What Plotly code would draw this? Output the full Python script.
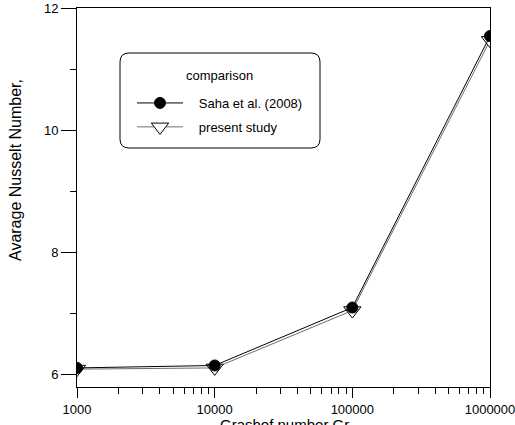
import plotly.graph_objects as go

# Grashof numbers and average Nusselt numbers for both data sets
grashof = [1000, 10000, 100000, 1000000]
nu_saha = [6.10, 6.14, 7.09, 11.54]
nu_present = [6.08, 6.10, 7.04, 11.47]

x_tick_vals = [1000, 10000, 100000, 1000000]
x_tick_text = ["1000", "10000", "100000", "1000000"]
y_tick_vals = [6, 8, 10, 12]
y_minor_vals = [7, 9, 11]

FONT = "Liberation Sans, Arial, sans-serif"
SAHA_COLOR = "black"
PRESENT_COLOR = "#6e6e6e"
GAP = "\u00a0" * 3  # spacing between legend symbol and label

# plot-area geometry in pixels (used to place the paper-space decorations)
W, H = 515, 425
L, R, T, B = 77, 25, 8, 38
PW, PH = W - L - R, H - T - B


def px_x(px):
    return (px - L) / PW


def px_y(py):
    return (H - B - py) / PH


fig = go.Figure()

fig.add_trace(go.Scatter(
    x=grashof, y=nu_present, name=GAP + "present study", mode="lines+markers",
    line=dict(color=PRESENT_COLOR, width=1),
    marker=dict(symbol="triangle-down", size=15, color="white",
                line=dict(color="black", width=1)),
    legendrank=2, legendgroup="present",
))
fig.add_trace(go.Scatter(
    x=grashof, y=nu_saha, name=GAP + "Saha et al. (2008)", mode="lines+markers",
    line=dict(color=SAHA_COLOR, width=1),
    marker=dict(symbol="circle", size=11, color="black",
                line=dict(color="black", width=1)),
    legendrank=1, legendgroup="saha",
))

# rounded frame around the legend
x0, x1 = px_x(120), px_x(320)
y0, y1 = px_y(148), px_y(53)
rx, ry = 9 / PW, 9 / PH
path = (f"M{x0+rx},{y1} L{x1-rx},{y1} Q{x1},{y1} {x1},{y1-ry} "
        f"L{x1},{y0+ry} Q{x1},{y0} {x1-rx},{y0} L{x0+rx},{y0} "
        f"Q{x0},{y0} {x0},{y0+ry} L{x0},{y1-ry} Q{x0},{y1} {x0+rx},{y1} Z")
fig.add_shape(type="path", path=path, xref="paper", yref="paper",
              line=dict(color="black", width=1), fillcolor="white", layer="below")

fig.update_layout(
    width=W, height=H,
    margin=dict(l=L, r=R, t=T, b=B, pad=0),
    paper_bgcolor="white", plot_bgcolor="white",
    font=dict(family=FONT, size=13, color="black"),
    showlegend=True,
    legend=dict(
        x=px_x(132), y=px_y(88), xanchor="left", yanchor="top",
        bgcolor="rgba(0,0,0,0)", borderwidth=0,
        font=dict(size=13), itemwidth=46, tracegroupgap=4,
    ),
    xaxis=dict(
        type="log", range=[3, 6], automargin=False,
        tickvals=x_tick_vals, ticktext=x_tick_text, ticklabeloverflow="allow",
        ticks="outside", ticklen=10, tickwidth=1, tickcolor="black",
        minor=dict(ticks="outside", ticklen=6, tickwidth=1, tickcolor="black",
                   dtick="D1", showgrid=False),
        showline=True, linecolor="black", linewidth=1, mirror=True,
        showgrid=False, zeroline=False,
        tickfont=dict(size=13),
    ),
    yaxis=dict(
        range=[5.787, 12], automargin=False,
        tickvals=y_tick_vals,
        ticks="outside", ticklen=15, tickwidth=1, tickcolor="black",
        minor=dict(ticks="outside", ticklen=6, tickwidth=1, tickcolor="black",
                   tickvals=y_minor_vals, showgrid=False),
        showline=True, linecolor="black", linewidth=1, mirror=True,
        showgrid=False, zeroline=False,
        tickfont=dict(size=13),
    ),
    annotations=[
        dict(text="comparison", xref="paper", yref="paper",
             x=px_x(219), y=px_y(75), xanchor="center", yanchor="middle",
             showarrow=False, font=dict(size=13)),
        dict(text="Avarage Nusselt Number,", textangle=-90,
             xref="paper", yref="paper", x=px_x(15), y=px_y(170),
             xanchor="center", yanchor="middle", showarrow=False,
             font=dict(size=16)),
        dict(text="Grashof number Gr",
             xref="paper", yref="paper", x=px_x(284), y=px_y(414),
             xanchor="center", yanchor="top", showarrow=False,
             font=dict(size=15)),
    ],
)

fig.write_html("out.html")
